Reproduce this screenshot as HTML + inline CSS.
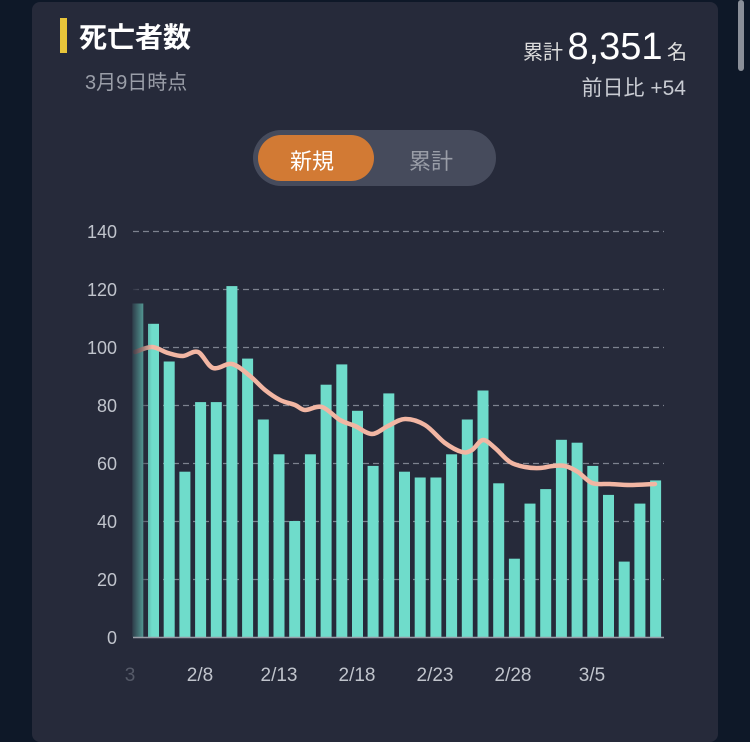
<!DOCTYPE html>
<html><head><meta charset="utf-8"><style>
html,body{margin:0;padding:0;}
body{width:750px;height:721px;background:#0e1828;position:relative;overflow:hidden;font-family:"Liberation Sans","Noto Sans CJK JP",sans-serif;}
.card{position:absolute;left:32px;top:2px;width:686px;height:740px;background:#262a3a;border-radius:8px;}
.t{position:absolute;white-space:nowrap;}
</style></head><body>
<div style="position:absolute;left:738px;top:0px;width:6px;height:71px;background:#8a8f99;border-radius:3px;"></div>
<div class="card"></div>
<div style="position:absolute;left:60px;top:18px;width:7px;height:35px;background:#e8c53a;"></div>
<div class="t" style="left:79px;top:16px;font-size:28px;font-weight:bold;color:#fff;">死亡者数</div>
<div class="t" style="left:85px;top:66px;font-size:20px;color:#9a9ea8;">3月9日時点</div>
<div class="t" style="right:63px;top:26px;color:#ddd;"><span style="font-size:20px;">累計</span> <span style="font-size:38px;color:#fff;">8,351</span> <span style="font-size:20px;">名</span></div>
<div class="t" style="right:64px;top:72px;font-size:21px;color:#c8cbd2;">前日比 +54</div>
<div style="position:absolute;left:253px;top:130px;width:243px;height:56px;background:#464b5c;border-radius:28px;"></div>
<div style="position:absolute;left:258px;top:135px;width:116px;height:46px;background:#d27a34;border-radius:23px;"></div>
<div class="t" style="left:290px;top:144px;font-size:22px;color:#fff;">新規</div>
<div class="t" style="left:409px;top:144px;font-size:22px;color:#9a9ea8;">累計</div>
<svg style="position:absolute;left:0;top:0" width="750" height="721">
<defs><linearGradient id="f" x1="0" x2="1"><stop offset="0" stop-color="#262a3a" stop-opacity="1"/><stop offset="1" stop-color="#262a3a" stop-opacity="0"/></linearGradient></defs>
<g stroke="#7d828f" stroke-width="1.2" stroke-dasharray="6,4">
<line x1="133" x2="664" y1="231.5" y2="231.5"/><line x1="133" x2="664" y1="289.5" y2="289.5"/><line x1="133" x2="664" y1="347.5" y2="347.5"/><line x1="133" x2="664" y1="405.5" y2="405.5"/><line x1="133" x2="664" y1="463.5" y2="463.5"/><line x1="133" x2="664" y1="521.5" y2="521.5"/><line x1="133" x2="664" y1="579.5" y2="579.5"/>
</g>
<g fill="#c0c4cc" font-size="18" text-anchor="end">
<text x="117" y="238">140</text><text x="117" y="296">120</text><text x="117" y="354">100</text><text x="117" y="412">80</text><text x="117" y="470">60</text><text x="117" y="528">40</text><text x="117" y="586">20</text><text x="117" y="644">0</text>
</g>
<g fill="#6fdccb" id="bars"></g>
<path id="ln" fill="none" stroke="#f2b6a3" stroke-width="4.5" stroke-linecap="round" stroke-linejoin="round"/>
<rect x="130" y="280" width="22" height="358" fill="url(#f)"/>
<line x1="133" x2="664" y1="637.5" y2="637.5" stroke="#9a9ea8" stroke-width="1.5"/>
<g fill="#c0c4cc" font-size="19" text-anchor="middle">
<text x="130" y="681" fill="#555a68">3</text><text x="200" y="681">2/8</text><text x="279" y="681">2/13</text><text x="357" y="681">2/18</text><text x="435" y="681">2/23</text><text x="513" y="681">2/28</text><text x="592" y="681">3/5</text>
</g>
</svg>
<script>
var v=[115,108,95,57,81,81,121,96,75,63,40,63,87,94,78,59,84,57,55,55,63,75,85,53,27,46,51,68,67,59,49,26,46,54];
var g=document.getElementById('bars'),s='';
for(var i=0;i<v.length;i++){var x=132.3+i*15.69,h=v[i]*2.9;s+='<rect x="'+x.toFixed(1)+'" y="'+(637-h).toFixed(1)+'" width="11" height="'+h.toFixed(1)+'"/>';}
g.innerHTML=s;
var p=[[135,352],[152,347],[168,353],[183,356],[198,352],[213,368],[232,364],[250,376],[265,390],[280,400],[295,405],[305,410],[322,407],[340,420],[355,426],[372,434],[388,426],[405,419],[425,425],[445,443],[462,452],[472,450],[483,440],[495,448],[510,462],[525,467],[540,468],[553,466],[565,466],[578,472],[592,483],[610,484],[630,485],[655,484]];
var d='M'+p[0][0]+','+p[0][1];
for(var i=0;i<p.length-1;i++){var p0=p[Math.max(0,i-1)],p1=p[i],p2=p[i+1],p3=p[Math.min(p.length-1,i+2)];
var c1x=p1[0]+(p2[0]-p0[0])/6,c1y=p1[1]+(p2[1]-p0[1])/6,c2x=p2[0]-(p3[0]-p1[0])/6,c2y=p2[1]-(p3[1]-p1[1])/6;
d+=' C'+c1x.toFixed(1)+','+c1y.toFixed(1)+' '+c2x.toFixed(1)+','+c2y.toFixed(1)+' '+p2[0]+','+p2[1];}
document.getElementById('ln').setAttribute('d',d);
</script>
</body></html>
